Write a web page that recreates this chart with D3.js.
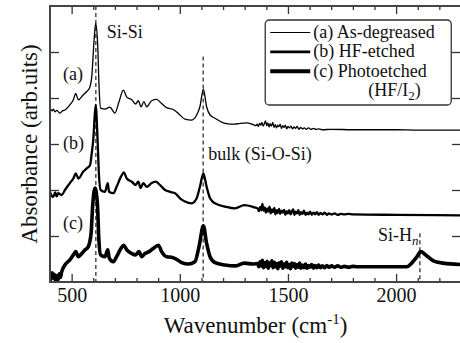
<!DOCTYPE html>
<html>
<head>
<meta charset="utf-8">
<script src="https://cdn.jsdelivr.net/npm/d3@7"></script>
<style>
  html, body { margin: 0; padding: 0; background: #fff; }
  svg { display: block; }
  text { font-family: "Liberation Serif", "DejaVu Serif", serif; fill: #111; }
</style>
</head>
<body>
<div id="chart"></div>
<script>
// spectra: [wavenumber (cm-1), absorbance (arb. units)]
const specA = [
  [400, 3.78], [410, 3.72], [416, 3.76], [423, 3.70], [432, 3.73], [446, 3.67], [458, 3.72], [469, 3.74],
  [492, 3.85], [508, 3.96], [519, 4.10], [531, 3.96], [554, 4.07], [570, 4.14], [582, 4.21],
  [593, 4.46], [603, 5.20], [611, 5.62], [620, 5.20], [628, 4.11], [634, 3.78], [654, 3.76],
  [677, 3.80], [700, 3.67], [719, 3.92], [739, 4.17], [755, 4.02], [778, 3.96], [796, 3.87],
  [808, 3.94], [821, 3.81], [834, 3.92], [847, 3.81], [870, 3.94], [893, 3.97], [916, 3.88],
  [939, 3.79], [970, 3.75], [1001, 3.63], [1024, 3.54], [1055, 3.52], [1078, 3.63],
  [1093, 3.81], [1109, 4.19], [1124, 3.81], [1140, 3.63], [1163, 3.56], [1209, 3.45],
  [1255, 3.43], [1280, 3.45], [1309, 3.46], [1340, 3.42],
  [1352, 3.40], [1358, 3.43], [1363, 3.38], [1369, 3.45], [1374, 3.41], [1380, 3.47],
  [1385, 3.39], [1391, 3.44], [1396, 3.50], [1402, 3.40], [1407, 3.46], [1413, 3.37],
  [1418, 3.44], [1424, 3.39], [1430, 3.47], [1435, 3.36], [1441, 3.42], [1447, 3.35],
  [1452, 3.41], [1458, 3.38], [1464, 3.43], [1470, 3.34], [1476, 3.40], [1482, 3.36],
  [1488, 3.41], [1494, 3.33], [1500, 3.38], [1507, 3.35], [1514, 3.39], [1521, 3.33],
  [1528, 3.37], [1535, 3.34], [1543, 3.38], [1551, 3.32], [1559, 3.36], [1567, 3.33],
  [1576, 3.35], [1585, 3.32], [1595, 3.35], [1606, 3.32], [1618, 3.34], [1630, 3.32],
  [1645, 3.33], [1660, 3.31], [1700, 3.32], [1800, 3.31], [1900, 3.31], [2000, 3.31],
  [2100, 3.30], [2300, 3.30]
];
const specB = [
  [400, 1.96], [407, 1.88], [415, 1.85], [424, 1.95], [431, 1.86], [438, 1.93], [454, 1.89],
  [469, 2.00], [492, 2.15], [508, 2.25], [519, 2.36], [531, 2.25], [554, 2.40], [570, 2.47],
  [585, 2.54], [593, 2.80], [600, 3.09], [611, 3.85], [620, 3.09], [626, 2.36], [634, 2.00],
  [654, 1.96], [667, 2.15], [673, 1.96], [693, 1.93], [708, 2.07], [728, 2.29], [741, 2.38],
  [755, 2.25], [778, 2.18], [796, 2.11], [808, 2.18], [819, 2.04], [831, 2.15], [847, 2.07],
  [870, 2.15], [889, 2.18], [908, 2.11], [932, 2.00], [955, 1.96], [978, 1.93], [1001, 1.82],
  [1024, 1.75], [1055, 1.71], [1078, 1.82], [1093, 2.07], [1109, 2.36], [1124, 2.07],
  [1140, 1.82], [1163, 1.71], [1209, 1.64], [1255, 1.60], [1298, 1.67], [1340, 1.63],
  [1360, 1.60], [1366, 1.54], [1371, 1.63], [1377, 1.56], [1382, 1.70], [1387, 1.55],
  [1393, 1.62], [1398, 1.51], [1404, 1.60], [1409, 1.53], [1415, 1.64], [1420, 1.49],
  [1426, 1.58], [1431, 1.52], [1437, 1.61], [1442, 1.47], [1448, 1.56], [1453, 1.50],
  [1459, 1.59], [1464, 1.48], [1470, 1.55], [1476, 1.51], [1482, 1.57], [1488, 1.46],
  [1494, 1.54], [1500, 1.49], [1506, 1.56], [1512, 1.47], [1518, 1.53], [1524, 1.58],
  [1530, 1.46], [1536, 1.53], [1542, 1.49], [1548, 1.56], [1554, 1.46], [1560, 1.52],
  [1567, 1.48], [1574, 1.55], [1581, 1.46], [1588, 1.51], [1595, 1.47], [1602, 1.53],
  [1610, 1.46], [1618, 1.51], [1626, 1.47], [1634, 1.52], [1642, 1.46], [1651, 1.50],
  [1660, 1.47], [1670, 1.51], [1680, 1.46], [1690, 1.49], [1702, 1.47], [1715, 1.49],
  [1730, 1.46], [1745, 1.48], [1760, 1.47], [1780, 1.48], [1800, 1.47], [2000, 1.46],
  [2300, 1.45]
];
const specC = [
  [400, 0.15], [405, 0.06], [410, 0.20], [415, 0.09], [420, 0.17], [425, 0.04], [431, 0.14],
  [437, 0.05], [443, 0.18], [448, 0.10], [454, 0.22], [469, 0.37], [492, 0.48], [508, 0.59],
  [519, 0.66], [531, 0.55], [547, 0.62], [562, 0.70], [577, 0.77], [590, 1.06], [597, 1.64],
  [608, 2.04], [619, 1.71], [626, 0.91], [634, 0.59], [654, 0.55], [667, 0.70], [674, 0.52],
  [693, 0.44], [708, 0.55], [728, 0.73], [741, 0.80], [755, 0.70], [778, 0.62], [796, 0.59],
  [811, 0.66], [824, 0.55], [839, 0.62], [858, 0.66], [877, 0.73], [901, 0.80], [916, 0.66],
  [939, 0.55], [962, 0.54], [986, 0.49], [1009, 0.42], [1039, 0.39], [1070, 0.44],
  [1089, 0.77], [1109, 1.22], [1124, 0.84], [1140, 0.55], [1163, 0.42], [1209, 0.37],
  [1255, 0.35], [1298, 0.41], [1340, 0.39],
  [1360, 0.40], [1365, 0.33], [1371, 0.44], [1376, 0.35], [1382, 0.47], [1387, 0.31],
  [1393, 0.42], [1398, 0.34], [1404, 0.45], [1409, 0.30], [1415, 0.41], [1420, 0.36],
  [1426, 0.46], [1431, 0.31], [1437, 0.43], [1442, 0.33], [1448, 0.40], [1453, 0.29],
  [1459, 0.42], [1464, 0.35], [1470, 0.44], [1476, 0.30], [1482, 0.39], [1488, 0.33],
  [1494, 0.43], [1500, 0.31], [1506, 0.38], [1512, 0.29], [1518, 0.41], [1524, 0.34],
  [1530, 0.40], [1536, 0.30], [1542, 0.38], [1548, 0.32], [1554, 0.41], [1560, 0.30],
  [1567, 0.37], [1574, 0.31], [1581, 0.39], [1588, 0.30], [1595, 0.36], [1602, 0.32],
  [1610, 0.38], [1618, 0.30], [1626, 0.36], [1634, 0.31], [1642, 0.37], [1651, 0.31],
  [1660, 0.35], [1670, 0.31], [1680, 0.36], [1690, 0.32], [1702, 0.35], [1715, 0.32],
  [1730, 0.35], [1745, 0.32], [1760, 0.34], [1780, 0.32], [1800, 0.34], [1820, 0.33],
  [1850, 0.33], [1950, 0.33], [2049, 0.33], [2072, 0.41], [2095, 0.54], [2114, 0.66],
  [2141, 0.57], [2172, 0.46], [2218, 0.41], [2300, 0.38]
];

const seriesNames = ['(a) As-degreased', '(b) HF-etched', '(c) Photoetched'];
const seriesWidths = [1.3, 2.3, 3.6];
const xMajorTicks = [500, 1000, 1500, 2000];
const xMinorTicks = d3.range(500, 2300, 100);
const yTicks = [1, 2, 3, 4, 5];
const peakMarks = [
  { wn: 612, from: 6, label: 'Si-Si' },
  { wn: 1108, from: 4.9, label: 'bulk (Si-O-Si)' },
  { wn: 2110, from: 1.06, label: 'Si-Hn' }
];
const curveLabels = [
  { text: '(a)', y: 4.4 },
  { text: '(b)', y: 2.9 },
  { text: '(c)', y: 1.16 }
];

const W = 460, H = 343;
const margin = { top: 6, right: -1, bottom: 61, left: 50 };
const width = W - margin.left - margin.right;
const height = H - margin.top - margin.bottom;

const x = d3.scaleLinear().domain([400, 2300]).range([0, width]);
const y = d3.scaleLinear().domain([0, 6]).range([height, 0]);

const svg = d3.select('#chart').append('svg')
  .attr('width', W).attr('height', H);

const g = svg.append('g').attr('transform', `translate(${margin.left},${margin.top})`);

svg.append('defs').append('clipPath').attr('id', 'plotclip')
  .append('rect').attr('width', width).attr('height', height);

// ticks (inward on all four sides)
g.append('g').attr('transform', `translate(0,${height})`)
  .call(d3.axisBottom(x).tickValues(xMajorTicks).tickSize(-8).tickPadding(6).tickFormat(d3.format('d')))
  .call(a => a.select('.domain').remove())
  .call(a => a.selectAll('text').attr('font-size', 20).attr('fill', '#111'));
g.append('g').attr('transform', `translate(0,${height})`)
  .call(d3.axisBottom(x).tickValues(xMinorTicks.filter(v => v % 500)).tickSize(-4).tickFormat(''))
  .call(a => a.select('.domain').remove());
g.append('g')
  .call(d3.axisTop(x).tickValues(xMajorTicks).tickSize(-8).tickFormat(''))
  .call(a => a.select('.domain').remove());
g.append('g')
  .call(d3.axisTop(x).tickValues(xMinorTicks.filter(v => v % 500)).tickSize(-4).tickFormat(''))
  .call(a => a.select('.domain').remove());
g.append('g')
  .call(d3.axisLeft(y).tickValues(yTicks).tickSize(-9).tickFormat(''))
  .call(a => a.select('.domain').remove());
g.append('g').attr('transform', `translate(${width},0)`)
  .call(d3.axisRight(y).tickValues(yTicks).tickSize(-9).tickFormat(''))
  .call(a => a.select('.domain').remove());
g.selectAll('.tick line').attr('stroke', '#333').attr('stroke-width', 1.3);

// dashed peak markers
g.selectAll('.peak').data(peakMarks).enter().append('line')
  .attr('x1', d => x(d.wn)).attr('x2', d => x(d.wn))
  .attr('y1', d => y(d.from)).attr('y2', height)
  .attr('stroke', '#222').attr('stroke-width', 1.2).attr('stroke-dasharray', '4,3');

// spectra
const line = d3.line().x(d => x(d[0])).y(d => y(d[1])).curve(d3.curveMonotoneX);
const plot = g.append('g').attr('clip-path', 'url(#plotclip)');
[specA, specB, specC].forEach((s, i) => {
  plot.append('path').datum(s)
    .attr('d', line)
    .attr('fill', 'none')
    .attr('stroke', '#000')
    .attr('stroke-width', seriesWidths[i])
    .attr('stroke-linejoin', 'round');
});

// frame
g.append('rect').attr('width', width).attr('height', height)
  .attr('fill', 'none').attr('stroke', '#444').attr('stroke-width', 2);

// annotations
g.append('text').attr('x', x(612) + 11).attr('y', 32).attr('font-size', 18).text('Si-Si');
g.append('text').attr('x', x(1108) + 5).attr('y', 154).attr('font-size', 18).text('bulk (Si-O-Si)');
const sih = g.append('text').attr('x', x(2110) - 42).attr('y', 235).attr('font-size', 18);
sih.append('tspan').text('Si-H');
sih.append('tspan').attr('font-style', 'italic').attr('font-size', 13).attr('dy', 4).text('n');
curveLabels.forEach(c => {
  g.append('text').attr('x', 13).attr('y', y(c.y)).attr('font-size', 18).text(c.text);
});

// legend
const leg = g.append('g').attr('transform', `translate(${x(1395)},14)`);
leg.append('rect').attr('width', 186).attr('height', 85).attr('rx', 4)
  .attr('fill', '#fff').attr('stroke', '#333').attr('stroke-width', 1.3);
seriesNames.forEach((n, i) => {
  const ly = 12.5 + i * 19.4;
  leg.append('line').attr('x1', 5).attr('x2', 45).attr('y1', ly).attr('y2', ly)
    .attr('stroke', '#000').attr('stroke-width', [1, 2.6, 4][i]);
  leg.append('text').attr('x', 48).attr('y', ly + 5.5).attr('font-size', 18).text(n);
});
const hf = leg.append('text').attr('x', 103).attr('y', 76).attr('font-size', 18);
hf.append('tspan').text('(HF/I');
hf.append('tspan').attr('font-size', 13).attr('dy', 4).text('2');
hf.append('tspan').attr('dy', -4).text(')');

// axis titles
svg.append('text').attr('x', margin.left + width / 2).attr('y', 333)
  .attr('text-anchor', 'middle').attr('font-size', 23)
  .call(t => {
    t.append('tspan').text('Wavenumber (cm');
    t.append('tspan').attr('font-size', 15).attr('dy', -9).text('-1');
    t.append('tspan').attr('dy', 9).text(')');
  });
svg.append('text')
  .attr('transform', `translate(37,${margin.top + height / 2}) rotate(-90)`)
  .attr('text-anchor', 'middle').attr('font-size', 23)
  .text('Absorbance (arb.uits)');
</script>
</body>
</html>
